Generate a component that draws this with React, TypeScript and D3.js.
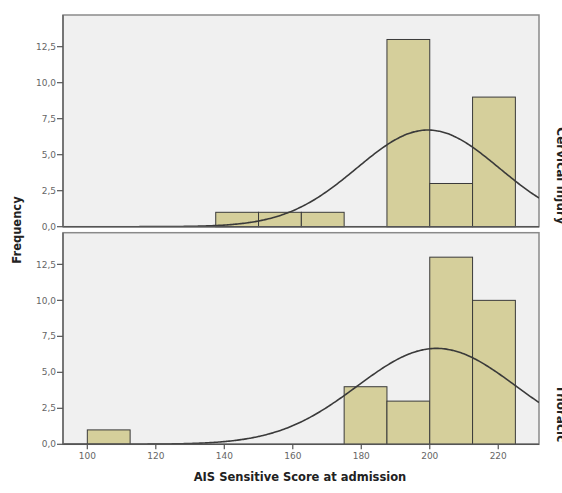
import React from "react";
import * as d3 from "d3";

const binStarts = [100, 112.5, 125, 137.5, 150, 162.5, 175, 187.5, 200, 212.5];
const binWidth = 12.5;
const topCounts = [0, 0, 0, 1, 1, 1, 0, 13, 3, 9];
const bottomCounts = [1, 0, 0, 0, 0, 0, 4, 3, 13, 10];
const topNormal = { mean: 199.5, sd: 20.8, n: 28 };
const bottomNormal = { mean: 202, sd: 23.2, n: 31 };
const yTicks = [0, 2.5, 5, 7.5, 10, 12.5];
const xTicks = [100, 120, 140, 160, 180, 200, 220];
const panelLabels = ["Cervical injury", "Thoracic"];

const W = 562;
const H = 493;
const left = 63;
const right = 539;

const x = d3.scaleLinear().domain([92.9, 231.9]).range([left, right]);
const fmt = (v: number) => v.toFixed(1).replace(".", ",");

function Panel({ counts, normal, top, bottom, id, label, showX }: any) {
  const y = d3.scaleLinear().domain([0, 14.7]).range([bottom, top]);
  const pts = d3.range(92.9, 232.0, 0.5).map((v) => {
    const z = (v - normal.mean) / normal.sd;
    const dens = (normal.n * binWidth) / (normal.sd * Math.sqrt(2 * Math.PI)) * Math.exp(-0.5 * z * z);
    return [v, dens] as [number, number];
  });
  const line = d3.line<[number, number]>().x((d) => x(d[0])).y((d) => y(d[1])).curve(d3.curveBasis);
  return (
    <g>
      <defs>
        <clipPath id={id}>
          <rect x={left} y={top} width={right - left} height={bottom - top} />
        </clipPath>
      </defs>
      <rect x={left} y={top} width={right - left} height={bottom - top} fill="#f0f0f0" stroke="#8a8a8a" strokeWidth={1.5} />
      {counts.map((c: number, i: number) =>
        c > 0 ? (
          <rect key={i} x={x(binStarts[i])} y={y(c)} width={x(binStarts[i] + binWidth) - x(binStarts[i])} height={y(0) - y(c)} fill="#d5cf9b" stroke="#3a3a3a" strokeWidth={1} />
        ) : null
      )}
      <path d={line(pts) || ""} fill="none" stroke="#3a3a3a" strokeWidth={1.6} clipPath={`url(#${id})`} />
      <line x1={left} x2={right} y1={bottom} y2={bottom} stroke="#555" strokeWidth={1.5} />
      <line x1={left} x2={left} y1={top} y2={bottom} stroke="#666" strokeWidth={1.5} />
      {yTicks.map((t) => (
        <g key={t}>
          <line x1={left - 6} x2={left} y1={y(t)} y2={y(t)} stroke="#555" strokeWidth={1.2} />
          <text x={left - 7} y={y(t)} dy="0.35em" textAnchor="end" fontSize={9} fill="#666" fontFamily="DejaVu Sans, sans-serif">{fmt(t)}</text>
        </g>
      ))}
      {showX &&
        xTicks.map((t) => (
          <g key={t}>
            <line x1={x(t)} x2={x(t)} y1={bottom} y2={bottom + 5} stroke="#555" strokeWidth={1.2} />
            <text x={x(t)} y={bottom + 15} textAnchor="middle" fontSize={9} fill="#666" fontFamily="DejaVu Sans, sans-serif">{t}</text>
          </g>
        ))}
      <text transform={`translate(557,${bottom - 2}) rotate(90)`} textAnchor="end" fontSize={12} fontWeight="bold" fill="#222" fontFamily="DejaVu Sans, sans-serif">{label}</text>
    </g>
  );
}

export default function App() {
  return (
    <svg width={W} height={H} style={{ position: "absolute", left: 0, top: 0, background: "#fff" }}>
      <Panel counts={topCounts} normal={topNormal} top={15} bottom={226.7} id="clipTop" label={panelLabels[0]} showX={false} />
      <Panel counts={bottomCounts} normal={bottomNormal} top={232.7} bottom={444.3} id="clipBot" label={panelLabels[1]} showX={true} />
      <text transform="translate(21,230) rotate(-90)" textAnchor="middle" fontSize={11.5} fontWeight="bold" fill="#222" fontFamily="DejaVu Sans, sans-serif">Frequency</text>
      <text x={300} y={481} textAnchor="middle" fontSize={11.5} fontWeight="bold" fill="#222" fontFamily="DejaVu Sans, sans-serif">AIS Sensitive Score at admission</text>
    </svg>
  );
}
